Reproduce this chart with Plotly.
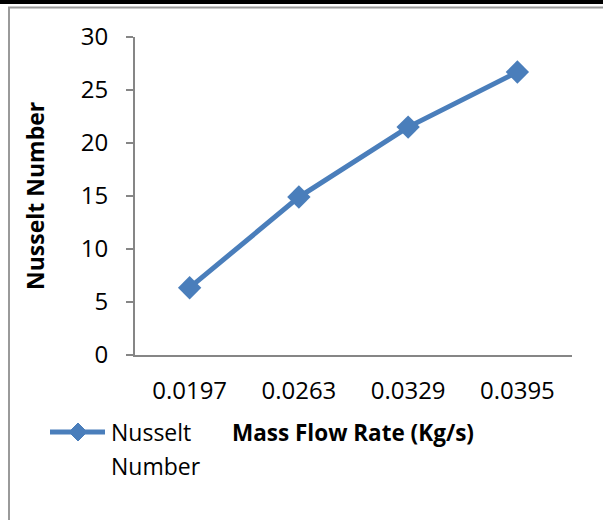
import plotly.graph_objects as go

categories = ["0.0197", "0.0263", "0.0329", "0.0395"]
nusselt = [6.35, 14.9, 21.5, 26.7]
series_name = "Nusselt Number"
x_title = "Mass Flow Rate (Kg/s)"
y_title = "Nusselt Number"
y_ticks = [0, 5, 10, 15, 20, 25, 30]

W, H = 603, 520
L, R, T, B = 135, 572, 37, 355  # plot area pixels
pw, ph = R - L, B - T

def px(x):
    return (x - L) / pw

def py(y):
    return (B - y) / ph

BLUE = "#4A7EBB"
GRAY = "#868686"
FONT = "Open Sans"

fig = go.Figure()
fig.add_trace(go.Scatter(
    x=categories, y=nusselt, mode="lines+markers", name=series_name,
    line=dict(color=BLUE, width=5),
    marker=dict(symbol="diamond", size=18, color=BLUE),
    showlegend=False,
))

fig.update_layout(
    width=W, height=H,
    margin=dict(l=L, r=W - R, t=T, b=H - B),
    paper_bgcolor="white", plot_bgcolor="white",
    font=dict(family=FONT, size=23, color="black"),
    xaxis=dict(
        type="category", range=[-0.5, 3.5], showline=True, linecolor=GRAY,
        linewidth=2, ticks="", showgrid=False, zeroline=False,
        tickfont=dict(size=24), ticklabelstandoff=13,
    ),
    yaxis=dict(
        range=[0, 30], tickvals=y_ticks, showline=True, linecolor=GRAY,
        linewidth=2, ticks="outside", ticklen=7, tickcolor=GRAY, tickwidth=2,
        showgrid=False, zeroline=False, tickfont=dict(size=24),
        ticklabelstandoff=13,
    ),
    showlegend=False,
)

shapes = []
# outer frame: black band top, gray lines top & left
shapes.append(dict(type="rect", xref="paper", yref="paper",
                   x0=px(0), x1=px(W), y0=py(4), y1=py(0),
                   fillcolor="black", line=dict(width=0), layer="above"))
shapes.append(dict(type="line", xref="paper", yref="paper",
                   x0=px(8), x1=px(W), y0=py(7.5), y1=py(7.5),
                   line=dict(color="#9a9a9a", width=2)))
shapes.append(dict(type="line", xref="paper", yref="paper",
                   x0=px(9), x1=px(9), y0=py(7.5), y1=py(H),
                   line=dict(color="#9a9a9a", width=2)))
# legend symbol
ly = 432
shapes.append(dict(type="line", xref="paper", yref="paper",
                   x0=px(50), x1=px(105), y0=py(ly), y1=py(ly),
                   line=dict(color=BLUE, width=5)))
cx, s = 78, 9
path = "M{},{} L{},{} L{},{} L{},{} Z".format(
    px(cx), py(ly - s), px(cx + s), py(ly), px(cx), py(ly + s), px(cx - s), py(ly))
shapes.append(dict(type="path", xref="paper", yref="paper", path=path,
                   fillcolor=BLUE, line=dict(color=BLUE, width=1)))
fig.update_layout(shapes=shapes)

name_lines = series_name.split(" ")
annotations = [
    dict(text="<b>" + x_title + "</b>", xref="paper", yref="paper",
         x=px(353), y=py(432), xanchor="center", yanchor="middle",
         showarrow=False, font=dict(size=22.5)),
    dict(text="<b>" + y_title + "</b>", xref="paper", yref="paper",
         x=px(35), y=py(196), xanchor="center", yanchor="middle",
         textangle=-90, showarrow=False, font=dict(size=23)),
    dict(text=name_lines[0], xref="paper", yref="paper",
         x=px(109), y=py(432), xanchor="left", yanchor="middle",
         showarrow=False, font=dict(size=23)),
    dict(text=name_lines[1], xref="paper", yref="paper",
         x=px(109), y=py(466), xanchor="left", yanchor="middle",
         showarrow=False, font=dict(size=23)),
]
fig.update_layout(annotations=annotations)

fig.write_html(
    "out.html",
    config={"displayModeBar": False},
    post_script="document.body.style.margin='0';document.body.style.overflow='hidden';",
)
